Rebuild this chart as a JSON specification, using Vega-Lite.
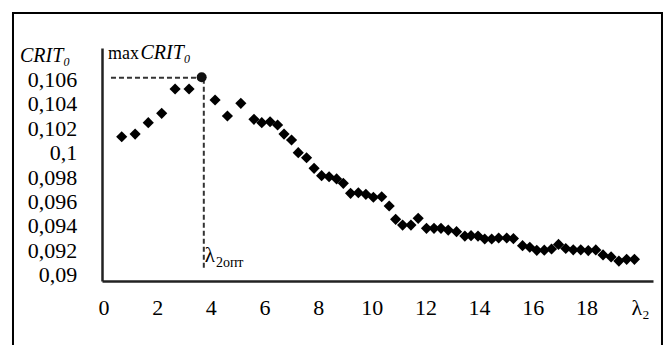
{
  "$schema": "https://vega.github.io/schema/vega-lite/v6.json",
  "width": 551,
  "height": 233,
  "autosize": "none",
  "padding": {"left": 102, "top": 48, "right": 14, "bottom": 64},
  "background": "white",
  "config": {"view": {"stroke": null}, "font": "Liberation Serif"},
  "datasets": {
    "points": [
      {"x": 0.66, "y": 0.10135}, {"x": 1.16, "y": 0.10157}, {"x": 1.65, "y": 0.1025}, {"x": 2.15, "y": 0.10327},
      {"x": 2.65, "y": 0.10526}, {"x": 3.17, "y": 0.10526}, {"x": 4.14, "y": 0.10436}, {"x": 4.6, "y": 0.10305},
      {"x": 5.1, "y": 0.10409}, {"x": 5.59, "y": 0.10278}, {"x": 5.88, "y": 0.1025}, {"x": 6.19, "y": 0.10258},
      {"x": 6.47, "y": 0.10231}, {"x": 6.71, "y": 0.10157}, {"x": 6.99, "y": 0.10108}, {"x": 7.24, "y": 0.10004},
      {"x": 7.55, "y": 0.09963}, {"x": 7.83, "y": 0.09876}, {"x": 8.11, "y": 0.09816}, {"x": 8.39, "y": 0.09807},
      {"x": 8.67, "y": 0.09789}, {"x": 8.92, "y": 0.09753}, {"x": 9.19, "y": 0.09671}, {"x": 9.48, "y": 0.09676},
      {"x": 9.76, "y": 0.09663}, {"x": 10.04, "y": 0.09639}, {"x": 10.35, "y": 0.09643}, {"x": 10.63, "y": 0.09567},
      {"x": 10.87, "y": 0.09458}, {"x": 11.13, "y": 0.09411}, {"x": 11.44, "y": 0.09411}, {"x": 11.71, "y": 0.09466},
      {"x": 12.02, "y": 0.09384}, {"x": 12.3, "y": 0.09384}, {"x": 12.56, "y": 0.09384}, {"x": 12.83, "y": 0.0937},
      {"x": 13.14, "y": 0.09357}, {"x": 13.45, "y": 0.09321}, {"x": 13.68, "y": 0.09324}, {"x": 13.94, "y": 0.09321},
      {"x": 14.19, "y": 0.09297}, {"x": 14.45, "y": 0.09297}, {"x": 14.71, "y": 0.09305}, {"x": 15.01, "y": 0.09305},
      {"x": 15.26, "y": 0.093}, {"x": 15.6, "y": 0.09242}, {"x": 15.87, "y": 0.09229}, {"x": 16.13, "y": 0.09204},
      {"x": 16.41, "y": 0.09205}, {"x": 16.68, "y": 0.09215}, {"x": 16.94, "y": 0.09252}, {"x": 17.21, "y": 0.09219},
      {"x": 17.49, "y": 0.09208}, {"x": 17.77, "y": 0.09208}, {"x": 18.05, "y": 0.09202}, {"x": 18.33, "y": 0.09207},
      {"x": 18.6, "y": 0.09166}, {"x": 18.9, "y": 0.0915}, {"x": 19.19, "y": 0.09116}, {"x": 19.48, "y": 0.0913},
      {"x": 19.77, "y": 0.0913}
    ],
    "maxpt": [{"x": 3.64, "y": 0.10622}],
    "guides": [
      {"x": 0.26, "x2": 3.6, "y": 0.10619, "y2": 0.10619},
      {"x": 3.72, "x2": 3.72, "y": 0.1061, "y2": 0.0904}
    ],
    "frame": [{"x": -3.392, "x2": 20.797, "y": 0.111492, "y2": 0.084115}],
    "ylabels": [
      {"x": -1.0, "y": 0.09, "text": "0,09"}, {"x": -1.0, "y": 0.092, "text": "0,092"}, {"x": -1.0, "y": 0.094, "text": "0,094"},
      {"x": -1.0, "y": 0.096, "text": "0,096"}, {"x": -1.0, "y": 0.098, "text": "0,098"}, {"x": -1.0, "y": 0.1, "text": "0,1"},
      {"x": -1.0, "y": 0.102, "text": "0,102"}, {"x": -1.0, "y": 0.104, "text": "0,104"}, {"x": -1.0, "y": 0.106, "text": "0,106"}
    ],
    "xlabels": [
      {"x": 0, "y": 0.08674, "text": "0"}, {"x": 2, "y": 0.08674, "text": "2"}, {"x": 4, "y": 0.08674, "text": "4"},
      {"x": 6, "y": 0.08674, "text": "6"}, {"x": 8, "y": 0.08674, "text": "8"}, {"x": 10, "y": 0.08674, "text": "10"},
      {"x": 12, "y": 0.08674, "text": "12"}, {"x": 14, "y": 0.08674, "text": "14"}, {"x": 16, "y": 0.08674, "text": "16"},
      {"x": 18, "y": 0.08674, "text": "18"}, {"x": 20, "y": 0.08674, "text": "λ₂"}
    ],
    "upright": [{"x": 0.15, "y": 0.10775, "text": "max"}],
    "lambda": [{"x": 4.137, "y": 0.091082, "text": "λ"}],
    "italic": [
      {"x": 1.36, "y": 0.10775, "text": "CRIT₀"},
      {"x": -3.13, "y": 0.107475, "text": "CRIT₀"}
    ],
    "sub": [{"x": 4.17, "y": 0.09066, "text": "2опт"}]
  },
  "encoding": {
    "x": {
      "field": "x", "type": "quantitative",
      "scale": {"domain": [-0.0745, 20.462], "nice": false, "zero": false},
      "axis": {"labels": false, "title": null, "grid": false, "ticks": false, "domainColor": "#222", "domainWidth": 2.5}
    },
    "y": {
      "field": "y", "type": "quantitative",
      "scale": {"domain": [0.089525, 0.108623], "nice": false, "zero": false},
      "axis": {"labels": false, "title": null, "grid": false, "ticks": false, "domainColor": "#222", "domainWidth": 2.5}
    }
  },
  "layer": [
    {
      "data": {"name": "frame"},
      "mark": {"type": "rect", "filled": false, "stroke": "#000", "strokeWidth": 2, "clip": false},
      "encoding": {"x2": {"field": "x2"}, "y2": {"field": "y2"}}
    },
    {
      "data": {"name": "guides"},
      "mark": {"type": "rule", "stroke": "#333", "strokeWidth": 2, "strokeDash": [5, 3]},
      "encoding": {"x2": {"field": "x2"}, "y2": {"field": "y2"}}
    },
    {
      "data": {"name": "points"},
      "mark": {"type": "point", "shape": "diamond", "filled": true, "size": 125, "color": "#000", "opacity": 1}
    },
    {
      "data": {"name": "maxpt"},
      "mark": {"type": "point", "shape": "circle", "filled": true, "size": 100, "color": "#111", "opacity": 1}
    },
    {
      "data": {"name": "ylabels"},
      "mark": {"type": "text", "align": "right", "baseline": "alphabetic", "dy": 7, "font": "Liberation Serif", "fontSize": 22, "color": "#000", "clip": false},
      "encoding": {"text": {"field": "text"}}
    },
    {
      "data": {"name": "xlabels"},
      "mark": {"type": "text", "align": "center", "baseline": "alphabetic", "font": "Liberation Serif", "fontSize": 22, "color": "#000", "clip": false},
      "encoding": {"text": {"field": "text"}}
    },
    {
      "data": {"name": "upright"},
      "mark": {"type": "text", "align": "left", "baseline": "alphabetic", "font": "Liberation Serif", "fontSize": 18, "color": "#000", "clip": false},
      "encoding": {"text": {"field": "text"}}
    },
    {
      "data": {"name": "lambda"},
      "mark": {"type": "text", "align": "right", "baseline": "alphabetic", "font": "Liberation Serif", "fontSize": 21, "color": "#000", "clip": false},
      "encoding": {"text": {"field": "text"}}
    },
    {
      "data": {"name": "italic"},
      "mark": {"type": "text", "align": "left", "baseline": "alphabetic", "font": "Liberation Serif", "fontStyle": "italic", "fontSize": 20, "color": "#000", "clip": false},
      "encoding": {"text": {"field": "text"}}
    },
    {
      "data": {"name": "sub"},
      "mark": {"type": "text", "align": "left", "baseline": "alphabetic", "font": "Liberation Serif", "fontSize": 14, "color": "#000", "clip": false},
      "encoding": {"text": {"field": "text"}}
    }
  ]
}
